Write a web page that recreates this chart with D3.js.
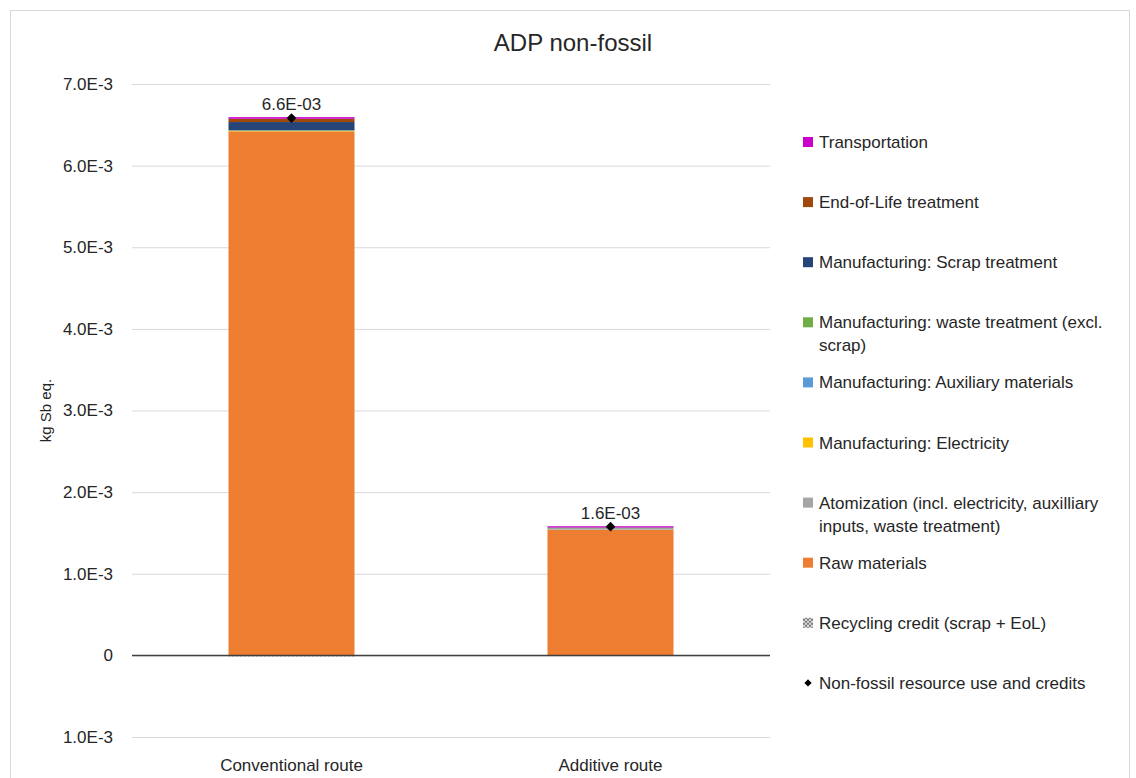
<!DOCTYPE html>
<html>
<head>
<meta charset="utf-8">
<script src="https://cdn.jsdelivr.net/npm/d3@7"></script>
<style>
  html, body { margin: 0; padding: 0; background: #fff; }
  text { font-family: "Liberation Sans", Arial, sans-serif; fill: #262626; }
</style>
</head>
<body>
<svg id="chart" width="1136" height="778"></svg>
<script>
// Routes compared
const routes = ["Conventional route", "Additive route"];

// Contributions per life-cycle stage (kg Sb eq.), one value per route
const rawMaterials   = [6.42e-3, 1.540e-3];
const atomization    = [0,       0.010e-3];
const electricity    = [0.004e-3, 0.003e-3];
const auxiliary      = [0.004e-3, 0.002e-3];
const wasteTreatment = [0.006e-3, 0.002e-3];
const scrapTreatment = [0.100e-3, 0.008e-3];
const endOfLife      = [0.040e-3, 0.002e-3];
const transportation = [0.020e-3, 0.015e-3];
const recyclingCredit = [-0.012e-3, -0.005e-3];

// Series names (legend text; "\n" marks a legend line break)
const seriesNames = [
  "Raw materials",
  "Atomization (incl. electricity, auxilliary\ninputs, waste treatment)",
  "Manufacturing: Electricity",
  "Manufacturing: Auxiliary materials",
  "Manufacturing: waste treatment (excl.\nscrap)",
  "Manufacturing: Scrap treatment",
  "End-of-Life treatment",
  "Transportation",
  "Recycling credit (scrap + EoL)"
];
const seriesColors = ["#ED7D31", "#A5A5A5", "#FFC000", "#5B9BD5", "#70AD47",
                      "#264478", "#9E480E", "#CC00CC", "url(#checker)"];
const totalName = "Non-fossil resource use and credits";

// Y axis ticks
const yTicks = [-1e-3, 0, 1e-3, 2e-3, 3e-3, 4e-3, 5e-3, 6e-3, 7e-3];

const seriesValues = [rawMaterials, atomization, electricity, auxiliary,
  wasteTreatment, scrapTreatment, endOfLife, transportation, recyclingCredit];

const rows = routes.map((r, i) => {
  const o = { route: r };
  seriesNames.forEach((n, k) => { o[n] = seriesValues[k][i]; });
  o.total = seriesValues.reduce((s, arr) => s + arr[i], 0);
  return o;
});

const svg = d3.select("#chart");

// checker pattern for the credit series
const defs = svg.append("defs");
const pat = defs.append("pattern").attr("id", "checker")
  .attr("width", 4).attr("height", 4).attr("patternUnits", "userSpaceOnUse");
pat.append("rect").attr("width", 4).attr("height", 4).attr("fill", "#d9d9d9");
pat.append("rect").attr("width", 2).attr("height", 2).attr("fill", "#7f7f7f");
pat.append("rect").attr("x", 2).attr("y", 2).attr("width", 2).attr("height", 2).attr("fill", "#7f7f7f");

// chart frame
svg.append("rect").attr("x", 10.5).attr("y", 10.5).attr("width", 1119).attr("height", 800)
  .attr("fill", "#fff").attr("stroke", "#d9d9d9");

const plot = { left: 132, right: 770, top: 84, bottom: 737 };

const x = d3.scaleBand().domain(routes).range([plot.left, plot.right]).paddingInner(0.605).paddingOuter(0.3025);
const y = d3.scaleLinear().domain([-1e-3, 7e-3]).range([plot.bottom, plot.top]);

// axis labels show magnitudes only, e.g. 7.0E-3
const tickFmt = v => {
  if (Math.abs(v) < 1e-12) return "0";
  return Math.abs(v).toExponential(1).toUpperCase().replace("E+", "E");
};
// data labels use a two-digit exponent, e.g. 6.6E-03
const labelFmt = v => {
  const [m, e] = v.toExponential(1).toUpperCase().split("E");
  const sign = e[0] === "-" ? "-" : "+";
  const digits = e.replace(/[+-]/, "").padStart(2, "0");
  return m + "E" + sign + digits;
};

// gridlines + tick labels
const yAxis = d3.axisLeft(y).tickValues(yTicks).tickFormat(tickFmt)
  .tickSize(-(plot.right - plot.left)).tickPadding(19);
const gy = svg.append("g").attr("transform", `translate(${plot.left},0)`).call(yAxis);
gy.select(".domain").remove();
gy.selectAll(".tick line").attr("stroke", "#d9d9d9").attr("stroke-width", 1);
gy.selectAll(".tick text").style("font-size", "17px").attr("fill", "#262626")
  .style("font-family", "'Liberation Sans', Arial, sans-serif");

// stacked bars
const stack = d3.stack().keys(seriesNames).offset(d3.stackOffsetDiverging);
const layers = stack(rows);
svg.append("g").selectAll("g").data(layers).join("g")
  .attr("fill", (d, i) => seriesColors[i])
  .selectAll("rect").data(d => d).join("rect")
  .attr("x", d => x(d.data.route))
  .attr("width", x.bandwidth())
  .attr("y", d => y(Math.max(d[0], d[1])))
  .attr("height", d => Math.abs(y(d[0]) - y(d[1])));

// zero line
svg.append("line").attr("x1", plot.left).attr("x2", plot.right)
  .attr("y1", y(0)).attr("y2", y(0)).attr("stroke", "#404040").attr("stroke-width", 1.5);

// totals: diamond markers and labels
const diamond = d3.symbol().type(d3.symbolDiamond2).size(60);
svg.append("g").selectAll("path").data(rows).join("path")
  .attr("d", diamond)
  .attr("transform", d => `translate(${x(d.route) + x.bandwidth() / 2},${y(d.total)})`)
  .attr("fill", "#000");
svg.append("g").selectAll("text").data(rows).join("text")
  .attr("x", d => x(d.route) + x.bandwidth() / 2)
  .attr("y", d => y(d.total) - 8)
  .attr("text-anchor", "middle")
  .style("font-size", "17px")
  .text(d => labelFmt(d.total));

// category labels
svg.append("g").selectAll("text").data(routes).join("text")
  .attr("x", d => x(d) + x.bandwidth() / 2)
  .attr("y", 771)
  .attr("text-anchor", "middle")
  .style("font-size", "17px")
  .text(d => d);

// title
svg.append("text").attr("x", 573).attr("y", 51).attr("text-anchor", "middle")
  .style("font-size", "24px").text("ADP non-fossil");

// y-axis title
svg.append("text").attr("transform", `translate(51,${(plot.top + plot.bottom) / 2}) rotate(-90)`)
  .attr("text-anchor", "middle").style("font-size", "15px").text("kg Sb eq.");

// legend: stack order reversed, then credit, then total marker
const legendItems = seriesNames.slice(0, 8).map((n, i) => ({ name: n, color: seriesColors[i] })).reverse();
legendItems.push({ name: seriesNames[8], color: seriesColors[8] });
legendItems.push({ name: totalName, marker: true });

const lg = svg.append("g");
legendItems.forEach((it, i) => {
  const cy = 142 + i * 60.1;
  const g = lg.append("g").attr("transform", `translate(803,${cy})`);
  if (it.marker) {
    g.append("path").attr("d", d3.symbol().type(d3.symbolDiamond2).size(34))
      .attr("transform", "translate(5,0)").attr("fill", "#000");
  } else {
    g.append("rect").attr("x", 0).attr("y", -5).attr("width", 10).attr("height", 10)
      .attr("fill", it.color);
  }
  const lines = it.name.split("\n");
  const t = g.append("text").attr("x", 16).attr("y", 6).style("font-size", "17px");
  lines.forEach((ln, k) => {
    t.append("tspan").attr("x", 16).attr("dy", k === 0 ? 0 : 23).text(ln);
  });
});
</script>
</body>
</html>
